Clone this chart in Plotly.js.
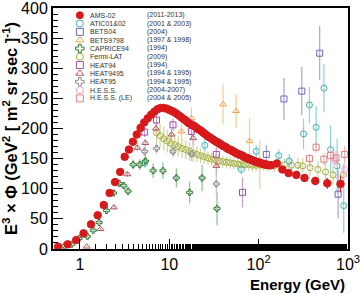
<!DOCTYPE html>
<html><head><meta charset="utf-8">
<script src="https://cdn.plot.ly/plotly-3.0.1.min.js"></script>
<style>html,body{margin:0;padding:0;background:#fff}#c{width:360px;height:294px}</style>
</head><body><div id="c"></div>
<script>
// ---- data (E in GeV, E^3 x flux) ----
const amsE=[0.57,0.73,0.91,1.10,1.33,1.58,1.85,2.15,2.47,2.82,3.17,3.54,3.92,4.33,4.77,5.24,5.74,6.27,6.82,7.39,8.0,8.62,9.28,9.97,10.7,11.4,12.2,13.0,13.8,14.7,15.6,16.5,17.5,18.5,19.5,20.6,21.7,22.8,24.0,25.2,26.5,27.8,29.2,30.6,32.0,33.5,35.0,36.6,38.3,40.0,41.8,43.6,45.5,47.4,49.5,51.5,53.7,56.0,58.2,60.6,63.0,65.6,68.2,71.0,73.7,76.6,79.6,82.7,85.9,89.2,92.6,96.1,99.7,103.5,107.4,111.4,115.5,119.7,124.1,128.7,133.4,138.2,160,184,216,264,326,430,586,824];
const amsV=[3.8,7.7,14.8,26,41,56,73,93,111,128,153,165,178,190,201,210,217,223,228,232,234,234,233,231,229,227,224,221,218,215,212,209,207,205,203,200,198,196,193,191,188,186,184,182,180,178,177,175,173,171,170,168,166,165,164,162,161,159,158,157,156,155,153,152,151,150,149,148,147,146,145,144,144,143,142,141,141,140,140,139,139,139,142,132,126,123,118,113,109,108];
const amsErr=[0.3,0.4,0.5,0.6,0.8,1,1,1,1,1,1,1,1,1,1,1,1,1,1,1,1,1,1,1,1,1,1,1,1,1,1,1,1,1,1,1,1,1,1,1,1,1,1,1,1,1,1,1,1,1,1,1,1,1,1,1,1,1,1,1,1,1,1,1,1,1,1,1,1,1,1,1,1,1,1,1,1,1,1,1,1,2,3,3,4,5,6,7,9,14];

const aticE=[5.3,25,64,94,168,220,318,370,440,537,638,756,895];
const aticV=[143,172,132,162,155,146,191,239,202,267,165,138,72];
const aticErr=[8,10,8,10,10,12,25,30,35,40,40,45,45];

const bets04E=[122,192,304,482,775];
const bets04V=[157,249,262,325,91];
const bets04Err=[15,35,40,45,40];

const bets9798E=[13.7,17.7,40,56,79,103];
const bets9798V=[195,217,240,229,179,140];
const bets9798Err=[15,18,33,28,38,40];

const capE=[0.67,0.81,0.98,1.21,1.41,1.64,1.99,2.38,2.75,3.1,3.46,3.94,4.68,5.4,6.6,8.5,12.0,16.9,23.3,34.2];
const capV=[5,7.7,17.5,21,31,44,64,93,109,105,96,140,140,146,130,130,118,94,118,67];
const capErr=[1,1,2,2,3,3,4,5,6,6,7,8,9,10,12,14,16,18,22,28];

const fermiE=[7.2,7.9,8.7,9.5,10.4,11.5,12.6,13.9,15.3,16.8,18.5,20.3,22.4,24.6,27.1,29.8,32.8,36.1,39.7,43.7,48.1,52.9,58.2,64.1,70.5,77.5,85.3,93.8,103,114,125,150,195,232,275,311,377,462,560,680,890];
const fermiV=[193,188,183,179,175,173,170,167,165,162,159,157,155,153,151,149,148,146,145,144,143,142,141,140,140,140,139,139,139,139,139,138,140,139,139,138,135,132,128,123,123];
const fermiErr=[22,20,20,19,18,18,17,16,15,15,14,13,12,12,11,11,10,10,10,10,10,10,10,10,10,10,10,10,10,10,10,10,11,11,12,12,13,14,15,16,18];

const heat94E=[5.3,7.2,11,17.7,33.6,66];
const heat94V=[194,214,206,195,157,94];
const heat94Err=[8,9,10,12,18,25];

const heat9495E=[1.19,1.70,2.4,3.4,4.4,5.4,7.1,10.6,18.5,33.6];
const heat9495V=[4,33,69,124,168,176,200,190,184,138];
const heat9495Err=[1,2,3,4,5,6,7,9,12,18];

const heat95E=[5.3,7.2,11,17.7,33.6];
const heat95V=[162,167,162,158,108];
const heat95Err=[8,9,10,12,18];

const hessE=[705,918];
const hessV=[147,132];
const hessErr=[12,14];

const hessLeE=[370,440,537,638,735,918];
const hessLeV=[150,169,149,155,151,157];
const hessLeErr=[8,9,10,11,12,14];

const names=["AMS-02","ATIC01&02","BETS04","BETS9798","CAPRICE94","Fermi-LAT","HEAT94","HEAT9495","HEAT95","H.E.S.S.","H.E.S.S. (LE)"];
const periods=["(2011-2013)","(2001 & 2003)","(2004)","(1997 & 1998)","(1994)","(2009)","(1994)","(1994 & 1995)","(1994 & 1995)","(2004-2007)","(2004 & 2005)"];

// ---- styles ----
const colors=["#d7191c","#3fb0b0","#6e66c0","#f2a444","#2f7a33","#a3ad3a","#a04aa8","#b05656","#8a8a8a","#eaa0d6","#e07f7f"];
const errColors=["#d7191c","#8fd3d3","#aaa4dd","#f7c98f","#8fbf92","#cfd49a","#c99ad0","#d4a0a0","#c4c4c4","#f3c9e8","#efb5b5"];
const symbols=["circle","circle-open","square-open","triangle-up-open","cross-open","circle-open","square-open","triangle-up-open","cross-open","circle-open","square-open"];
const sizes=[7.5,6,6,6,5,6,6,6,5,6,6];
const series=[[amsE,amsV,amsErr],[aticE,aticV,aticErr],[bets04E,bets04V,bets04Err],[bets9798E,bets9798V,bets9798Err],[capE,capV,capErr],[fermiE,fermiV,fermiErr],[heat94E,heat94V,heat94Err],[heat9495E,heat9495V,heat9495Err],[heat95E,heat95V,heat95Err],[hessE,hessV,hessErr],[hessLeE,hessLeV,hessLeErr]];

const drawOrder=[5,1,2,3,4,6,7,8,9,10,0];
const traces=drawOrder.map(i=>({
  type:"scatter",mode:"markers",x:series[i][0],y:series[i][1],name:names[i],
  marker:{symbol:symbols[i],size:sizes[i],color:colors[i],line:{width:1,color:colors[i]}},
  error_y:{type:"data",array:series[i][2],visible:true,color:errColors[i],thickness:1.2,width:0},
  showlegend:false,hoverinfo:"x+y"
}));

// ---- hand-built legend (compact rows) ----
const lgX0=0.091, lgTop=0.97, lgStep=0.0345;
traces.push({type:"scatter",mode:"markers",xaxis:"x2",yaxis:"y2",
  x:names.map(()=>lgX0),y:names.map((_,i)=>lgTop-i*lgStep),
  marker:{symbol:symbols,size:7,color:colors,line:{width:1,color:colors}},
  showlegend:false,hoverinfo:"skip"});
const ann=[];
names.forEach((n,i)=>{
  ann.push({xref:"paper",yref:"paper",x:0.118,y:lgTop-i*lgStep,text:n,showarrow:false,xanchor:"left",yanchor:"middle",font:{family:"Liberation Sans, Arial",size:7,color:"#333"}});
  ann.push({xref:"paper",yref:"paper",x:0.311,y:lgTop-i*lgStep,text:periods[i],showarrow:false,xanchor:"left",yanchor:"middle",font:{family:"Liberation Sans, Arial",size:7,color:"#333"}});
});
ann.push({xref:"paper",yref:"paper",x:0.995,y:-0.148,text:"<b>Energy (GeV)</b>",showarrow:false,xanchor:"right",yanchor:"middle",font:{family:"Liberation Sans, Arial",size:15,color:"#000"}});

const layout={
  width:360,height:294,margin:{l:53,r:12,t:8,b:45},
  paper_bgcolor:"#fff",plot_bgcolor:"#fff",showlegend:false,
  font:{family:"Liberation Sans, Arial",color:"#000"},
  xaxis:{type:"log",range:[Math.log10(0.5),3],tickvals:[1,10,100,1000],ticktext:["1","10","10<sup>2</sup>","10<sup>3</sup>"],
    ticks:"inside",ticklen:10,tickwidth:1,tickcolor:"#000",showline:true,linewidth:2,linecolor:"#000",mirror:true,
    showgrid:false,zeroline:false,tickfont:{size:16},ticklabeloverflow:"allow",
    minor:{ticks:"inside",ticklen:5,tickwidth:1,tickcolor:"#000",showgrid:false}},
  yaxis:{range:[0,400],tickvals:[0,50,100,150,200,250,300,350,400],ticks:"inside",ticklen:10,tickwidth:1,tickcolor:"#000",
    showline:true,linewidth:2,linecolor:"#000",mirror:true,showgrid:false,zeroline:false,tickfont:{size:16},ticklabeloverflow:"allow",
    minor:{dtick:10,ticks:"inside",ticklen:5,tickwidth:1,tickcolor:"#000",showgrid:false},
    title:{text:"<b>E<sup>3</sup> × Φ (GeV<sup>2</sup> [ m<sup>2</sup> sr sec ]<sup>-1</sup>)</b>",font:{size:16.5},standoff:3}},
  xaxis2:{overlaying:"x",range:[0,1],visible:false,fixedrange:true},
  yaxis2:{overlaying:"y",range:[0,1],visible:false,fixedrange:true},
  annotations:ann
};
Plotly.newPlot("c",traces,layout,{staticPlot:true,displayModeBar:false});
</script></body></html>
